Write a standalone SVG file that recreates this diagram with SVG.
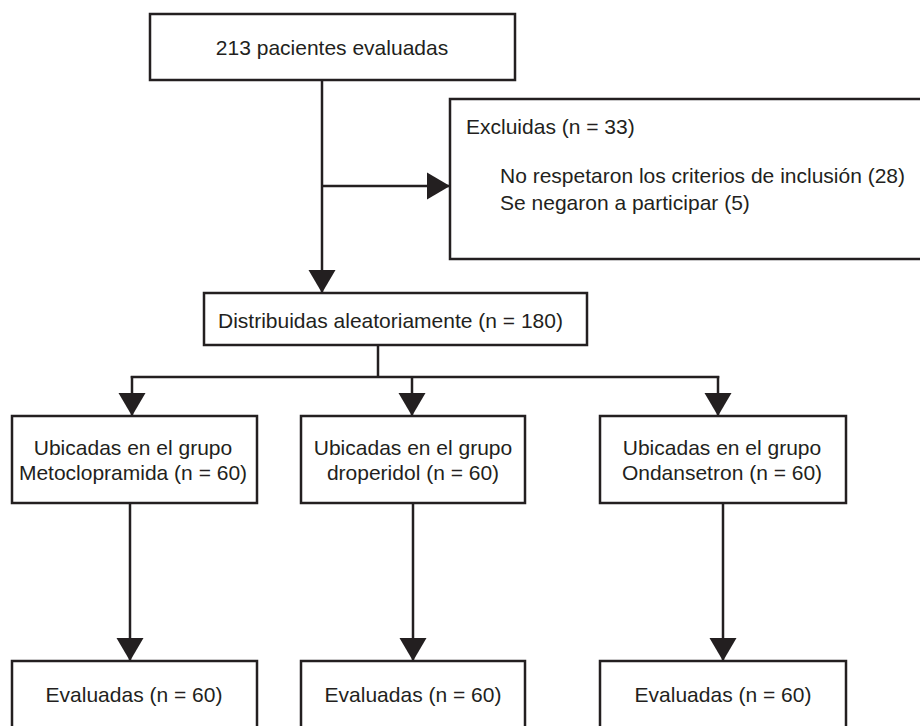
<svg xmlns="http://www.w3.org/2000/svg" width="920" height="726" viewBox="0 0 920 726">
<style>
.box{fill:#fff;stroke:#231f20;stroke-width:2.5}
.t{font-family:"Liberation Sans",Arial,sans-serif;font-size:21px;fill:#231f20}
.c{text-anchor:middle}
.ln{fill:none;stroke:#231f20;stroke-width:2.5}
</style>
<defs>
<marker id="ah" markerUnits="userSpaceOnUse" markerWidth="24" markerHeight="28" viewBox="0 0 24 28" refX="23" refY="14" orient="auto">
<path d="M0,0.5 L23,14 L0,27.5 z" fill="#231f20"/>
</marker>
</defs>
<rect width="920" height="726" fill="#fff"/>
<g id="connectors">
<line class="ln" x1="322" y1="80" x2="322" y2="293" marker-end="url(#ah)"/>
<line class="ln" x1="322" y1="186" x2="450" y2="186" marker-end="url(#ah)"/>
<line class="ln" x1="378" y1="345" x2="378" y2="377"/>
<line class="ln" x1="130.75" y1="377" x2="719.25" y2="377"/>
<line class="ln" x1="132" y1="376" x2="132" y2="416" marker-end="url(#ah)"/>
<line class="ln" x1="412" y1="377" x2="412" y2="416" marker-end="url(#ah)"/>
<line class="ln" x1="718" y1="376" x2="718" y2="416" marker-end="url(#ah)"/>
<line class="ln" x1="130" y1="503" x2="130" y2="661" marker-end="url(#ah)"/>
<line class="ln" x1="413" y1="503" x2="413" y2="661" marker-end="url(#ah)"/>
<line class="ln" x1="723" y1="503" x2="723" y2="661" marker-end="url(#ah)"/>
</g>
<g id="n-evaluadas">
<rect class="box" x="150" y="14" width="365" height="66"/>
<text class="t c" x="332" y="55">213 pacientes evaluadas</text>
</g>
<g id="n-excluidas">
<rect class="box" x="450" y="99" width="480" height="160"/>
<text class="t" x="466" y="134">Excluidas (n = 33)</text>
<text class="t" x="500" y="183">No respetaron los criterios de inclusión (28)</text>
<text class="t" x="500" y="210">Se negaron a participar (5)</text>
</g>
<g id="n-distribuidas">
<rect class="box" x="204" y="293" width="383" height="52"/>
<text class="t" x="218" y="328">Distribuidas aleatoriamente (n = 180)</text>
</g>
<g id="n-metoclopramida">
<rect class="box" x="12" y="416" width="245" height="87"/>
<text class="t c" x="133" y="455">Ubicadas en el grupo</text>
<text class="t c" x="133" y="480">Metoclopramida (n = 60)</text>
</g>
<g id="n-droperidol">
<rect class="box" x="301" y="416" width="224" height="87"/>
<text class="t c" x="413" y="455">Ubicadas en el grupo</text>
<text class="t c" x="413" y="480">droperidol (n = 60)</text>
</g>
<g id="n-ondansetron">
<rect class="box" x="600" y="416" width="246" height="87"/>
<text class="t c" x="722" y="455">Ubicadas en el grupo</text>
<text class="t c" x="722" y="480">Ondansetron (n = 60)</text>
</g>
<g id="n-eval-meto">
<rect class="box" x="12" y="661" width="245" height="80"/>
<text class="t c" x="134" y="702">Evaluadas (n = 60)</text>
</g>
<g id="n-eval-drop">
<rect class="box" x="301" y="661" width="224" height="80"/>
<text class="t c" x="413" y="702">Evaluadas (n = 60)</text>
</g>
<g id="n-eval-onda">
<rect class="box" x="600" y="661" width="246" height="80"/>
<text class="t c" x="723" y="702">Evaluadas (n = 60)</text>
</g>
</svg>
